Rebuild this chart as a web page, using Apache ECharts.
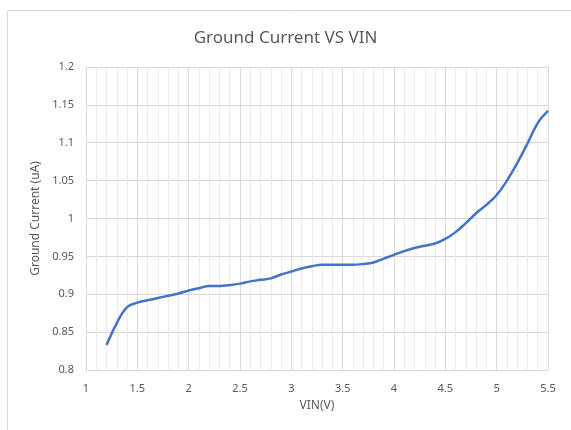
<!DOCTYPE html>
<html>
<head>
<meta charset="utf-8">
<script src="https://cdn.jsdelivr.net/npm/echarts@6/dist/echarts.min.js"></script>
<style>
    html, body { margin: 0; padding: 0; background: #fff; }
    #chart { width: 571px; height: 430px; }
</style>
</head>
<body>
<div id="chart"></div>
<script>
// VIN (V) and ground current (uA)
var vin = [1.2, 1.3, 1.4, 1.5, 1.6, 1.7, 1.8, 1.9, 2.0, 2.1, 2.2, 2.3, 2.4, 2.5, 2.6, 2.7, 2.8, 2.9,
    3.0, 3.1, 3.2, 3.3, 3.4, 3.5, 3.6, 3.7, 3.8, 3.9, 4.0, 4.1, 4.2, 4.3, 4.4, 4.5, 4.6, 4.7, 4.8,
    4.9, 5.0, 5.1, 5.2, 5.3, 5.4, 5.5];
var current = [0.833, 0.862, 0.883, 0.889, 0.892, 0.895, 0.898, 0.901, 0.905, 0.908, 0.911, 0.911,
    0.912, 0.914, 0.917, 0.919, 0.921, 0.926, 0.930, 0.934, 0.937, 0.939, 0.939, 0.939, 0.939,
    0.940, 0.942, 0.947, 0.952, 0.957, 0.961, 0.964, 0.967, 0.973, 0.982, 0.994, 1.007, 1.018,
    1.031, 1.050, 1.073, 1.099, 1.126, 1.142];

var points = vin.map(function (v, i) { return [v, current[i]]; });

var chart = echarts.init(document.getElementById('chart'), null, { renderer: 'canvas' });

var option = {
    animation: false,
    backgroundColor: '#fff',
    textStyle: { fontFamily: 'Noto Sans' },
    title: {
        text: 'Ground Current VS VIN',
        left: 'center',
        top: 25,
        textStyle: { fontSize: 17, fontWeight: 'normal', color: '#595959', fontFamily: 'Noto Sans' }
    },
    graphic: [{
        type: 'rect',
        shape: { x: 7.5, y: 10.5, width: 700, height: 600 },
        style: { fill: 'none', stroke: '#d9d9d9', lineWidth: 1 },
        silent: true
    }],
    grid: { left: 86, right: 23, top: 67, bottom: 60 },
    xAxis: {
        type: 'value',
        min: 1,
        max: 5.5,
        interval: 0.5,
        name: 'VIN(V)',
        nameLocation: 'middle',
        nameGap: 30,
        nameTextStyle: { fontSize: 12, color: '#595959' },
        axisLine: { show: false },
        axisTick: { show: false },
        axisLabel: { fontSize: 11, color: '#595959', margin: 13 },
        splitLine: { show: true, lineStyle: { color: '#d9d9d9', width: 1 } },
        minorTick: { show: false, splitNumber: 5 },
        minorSplitLine: { show: true, lineStyle: { color: '#ebebeb', width: 1 } }
    },
    yAxis: {
        type: 'value',
        min: 0.8,
        max: 1.2,
        interval: 0.05,
        name: 'Ground Current (uA)',
        nameLocation: 'middle',
        nameGap: 43,
        nameTextStyle: { fontSize: 12, color: '#595959' },
        axisLine: { show: false },
        axisTick: { show: false },
        axisLabel: {
            fontSize: 11, color: '#595959', margin: 12,
            formatter: function (v) { return String(+v.toFixed(2)); }
        },
        splitLine: { show: true, lineStyle: { color: '#d9d9d9', width: 1 } }
    },
    series: [{
        type: 'line',
        data: points,
        smooth: 0.4,
        showSymbol: false,
        lineStyle: { color: '#4472c4', width: 2.5 },
        itemStyle: { color: '#4472c4' }
    }]
};

chart.setOption(option);
</script>
</body>
</html>
